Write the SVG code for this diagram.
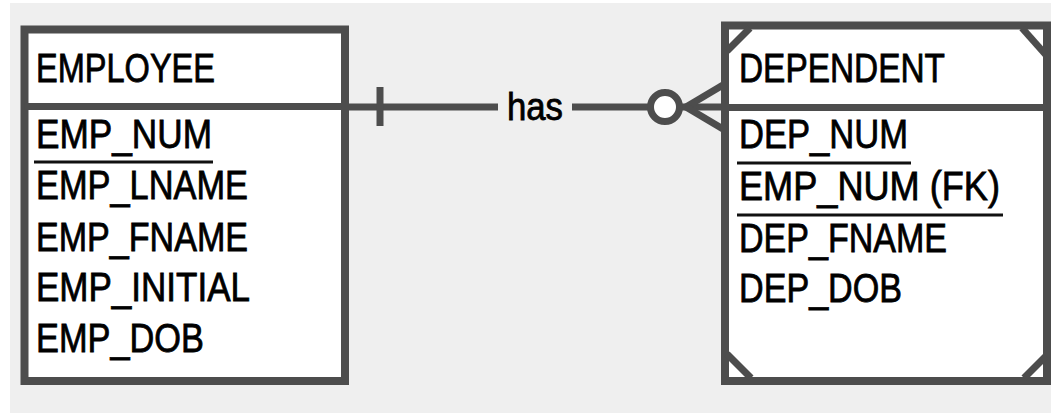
<svg xmlns="http://www.w3.org/2000/svg" width="1051" height="415" viewBox="0 0 1051 415">
<style>
.frame{fill:#ffffff;stroke:#4d4d4d;stroke-width:8}
.ln{stroke:#4d4d4d;stroke-width:7;fill:none}
.ul{stroke:#111111;stroke-width:3}
.t{font-family:"Liberation Sans",Arial,sans-serif;font-size:40px;fill:#000000;stroke:#000000;stroke-width:0.8}
.h{font-family:"Liberation Sans",Arial,sans-serif;font-size:38px;fill:#000000;stroke:#000000;stroke-width:0.8}
</style>
<rect x="0" y="0" width="1051" height="415" fill="#ffffff"/>
<rect x="10" y="3" width="1041" height="410" fill="#efefef"/>
<g id="connectors">
<line class="ln" x1="345" y1="107" x2="498" y2="107"/>
<line class="ln" x1="572" y1="107" x2="725" y2="107"/>
<line class="ln" x1="380" y1="87" x2="380" y2="126"/>
<line class="ln" x1="686" y1="107" x2="723" y2="85"/>
<line class="ln" x1="686" y1="107" x2="723" y2="129"/>
<circle cx="665" cy="107" r="14.5" fill="#ffffff" stroke="#4d4d4d" stroke-width="7"/>
<text class="h" x="507" y="120" textLength="56" lengthAdjust="spacingAndGlyphs">has</text>
</g>
<g id="employee">
<rect class="frame" x="24.5" y="29.5" width="320.5" height="351.5"/>
<line class="ln" x1="24.5" y1="106.5" x2="345" y2="106.5"/>
<text class="t" x="36" y="82" textLength="179" lengthAdjust="spacingAndGlyphs">EMPLOYEE</text>
<text class="t" x="36" y="148" textLength="176" lengthAdjust="spacingAndGlyphs">EMP_NUM</text>
<line class="ul" x1="34" y1="162" x2="213" y2="162"/>
<text class="t" x="36" y="199" textLength="212" lengthAdjust="spacingAndGlyphs">EMP_LNAME</text>
<text class="t" x="36" y="251" textLength="212" lengthAdjust="spacingAndGlyphs">EMP_FNAME</text>
<text class="t" x="36" y="301" textLength="214" lengthAdjust="spacingAndGlyphs">EMP_INITIAL</text>
<text class="t" x="36" y="352" textLength="168" lengthAdjust="spacingAndGlyphs">EMP_DOB</text>
</g>
<g id="dependent">
<rect class="frame" x="725" y="25.5" width="322" height="355.5"/>
<line class="ln" x1="725" y1="107.5" x2="1047" y2="107.5"/>
<line class="ln" x1="727" y1="51" x2="750" y2="28"/>
<line class="ln" x1="1022" y1="28" x2="1046" y2="55"/>
<line class="ln" x1="727" y1="354" x2="751" y2="378"/>
<line class="ln" x1="1024" y1="378" x2="1046" y2="356"/>
<text class="t" x="739" y="82" textLength="206" lengthAdjust="spacingAndGlyphs">DEPENDENT</text>
<text class="t" x="739" y="148" textLength="169" lengthAdjust="spacingAndGlyphs">DEP_NUM</text>
<line class="ul" x1="737" y1="163" x2="911" y2="163"/>
<text class="t" x="739" y="200" textLength="261" lengthAdjust="spacingAndGlyphs">EMP_NUM (FK)</text>
<line class="ul" x1="737" y1="215" x2="1003" y2="215"/>
<text class="t" x="739" y="252" textLength="208" lengthAdjust="spacingAndGlyphs">DEP_FNAME</text>
<text class="t" x="739" y="302" textLength="163" lengthAdjust="spacingAndGlyphs">DEP_DOB</text>
</g>
</svg>
